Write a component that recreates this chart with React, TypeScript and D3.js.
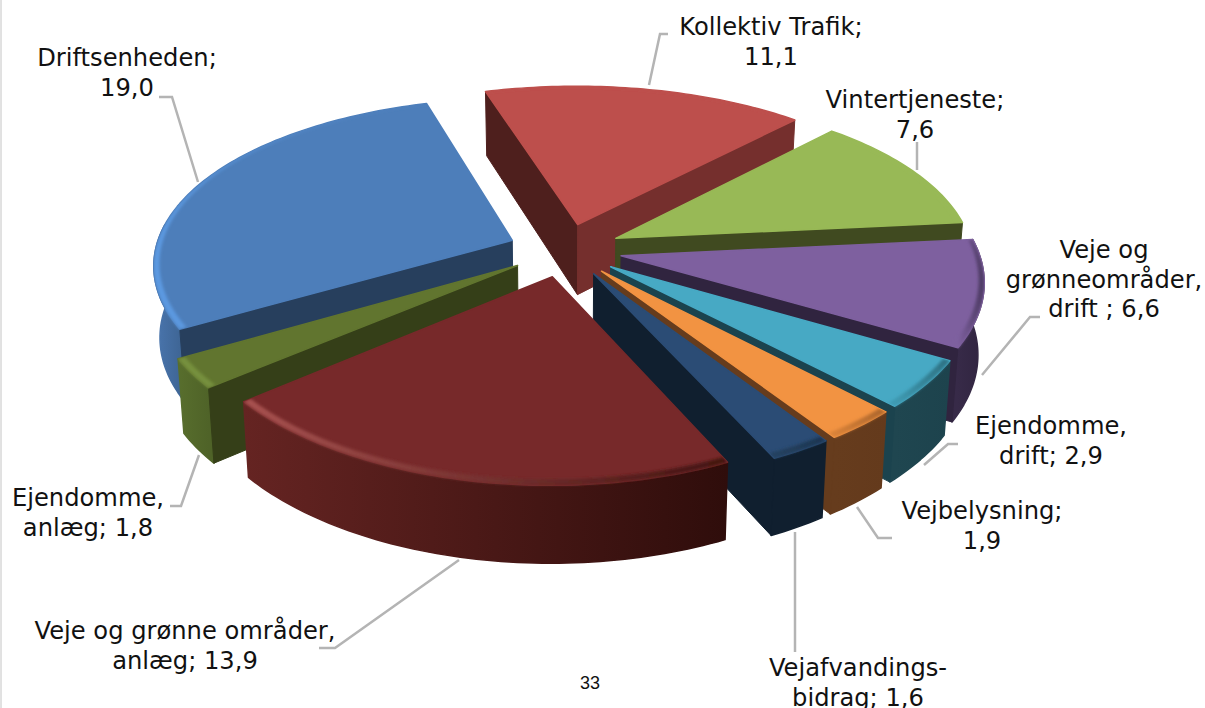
import React from "react";
import * as d3 from "d3";

// ---- data, clockwise from the first slice ----
const categories = [
  "Kollektiv Trafik", "Vintertjeneste", "Veje og grønneområder, drift", "Ejendomme, drift", "Vejbelysning",
  "Vejafvandingsbidrag", "Veje og grønne områder, anlæg", "Ejendomme, anlæg", "Driftsenheden",
];
const values = [11.1, 7.6, 6.6, 2.9, 1.9, 1.6, 13.9, 1.8, 19.0];

// ---- styles, one entry per slice ----
const topColors = ["#BD4F4C", "#98B956", "#7E609F", "#47A9C4", "#F29342", "#2B4C75", "#77292A", "#61752F", "#4D7EBA"];
const rimLeft = ["#BD4F4C", "#98B956", "#7E609F", "#3E9AB2", "#D98238", "#24415F", "#A85250", "#76903C", "#5C9AE2"];
const rimRight = ["#BD4F4C", "#98B956", "#4A3860", "#2C6F80", "#A9642B", "#1B3450", "#42110F", "#76903C", "#4F83C2"];
const radialWalls = ["#4E1F1D", "#404A20", "#30243F", "#1B434E", "#663C1D", "#101F2F", "#3A1210", "#353F18", "#273F5D"];
const radialWallsEnd = ["#752F2D", "#404A20", "#30243F", "#1B434E", "#663C1D", "#101F2F", "#3A1210", "#353F18", "#273F5D"];
const wallLeft = ["#752F2D", "#404A20", "#372A48", "#1F4650", "#663C1D", "#101F2F", "#652422", "#586E2D", "#4A76AF"];
const wallRight = ["#752F2D", "#404A20", "#30243F", "#1D434D", "#643A1C", "#101F2F", "#2F0D0B", "#4F6328", "#3F6696"];

// ---- label layout ----
const labelLines = [
  ["Kollektiv Trafik;", "11,1"],
  ["Vintertjeneste;", "7,6"],
  ["Veje og", "grønneområder,", "drift ; 6,6"],
  ["Ejendomme,", "drift; 2,9"],
  ["Vejbelysning;", "1,9"],
  ["Vejafvandings-", "bidrag; 1,6"],
  ["Veje og grønne områder,", "anlæg; 13,9"],
  ["Ejendomme,", "anlæg; 1,8"],
  ["Driftsenheden;", "19,0"],
];
const labelCenters: [number, number][] = [
  [771, 35], [915, 108], [1104, 258], [1051, 434], [982, 519], [858, 676], [185, 639], [88, 506], [127, 66],
];
const leaders: [number, number][][] = [
  [[668, 34], [660, 34], [649, 85]],
  [[917, 142], [917, 170]],
  [[1040, 317], [1030, 317], [982, 375]],
  [[958, 444], [948, 444], [924, 465]],
  [[892, 538], [878, 538], [857, 507]],
  [[795, 532], [795, 652]],
  [[459, 560], [335, 648], [319, 648]],
  [[199, 455], [181, 506], [170, 506]],
  [[159, 97], [172, 97], [198, 182]],
];

// ---- projection of the tilted pie plane ----
const W = 1205, H = 708;
const CX = 565, CY = 250, R = 357, TILT = 0.468, PERSP_Y = 0.155, PERSP_X = 0.135, EXPLODE = 0.16;
const START_DEG = -17;

type P = { x: number; y: number; z: number };
const project = (px: number, pz: number): P => ({
  x: CX + (R * px) / (1 - PERSP_X * pz),
  y: CY + (R * TILT * pz) / (1 - PERSP_Y * pz),
  z: pz,
});
const drop = (p: P): P => ({ x: CX + (p.x - CX) * 0.985, y: p.y + 71 + 6 * p.z, z: p.z });
const line = d3.line<P>().x((d) => d.x).y((d) => d.y);

const arcs = d3.pie<number>().sort(null)
  .startAngle((START_DEG * Math.PI) / 180)
  .endAngle(((START_DEG + 360) * Math.PI) / 180)(values);

const slices = arcs.map((a, i) => {
  const mid = (a.startAngle + a.endAngle) / 2;
  const ox = EXPLODE * Math.sin(mid), oz = -EXPLODE * Math.cos(mid);
  const at = (ang: number, r: number) => project(ox + r * Math.sin(ang), oz - r * Math.cos(ang));
  const n = Math.max(6, Math.ceil((a.endAngle - a.startAngle) / 0.02));
  const angs = d3.range(n + 1).map((k) => a.startAngle + ((a.endAngle - a.startAngle) * k) / n);
  const outer = angs.map((g) => at(g, 1));
  const rimInner = angs.map((g) => at(g, 1 - (0.004 + 0.02 * (1 - Math.cos(g)) / 2)));
  const tip = at(0, 0);
  const frontArc = outer.filter((p, k) => {
    const c = ((angs[k] * 180) / Math.PI + 720) % 360;
    return c >= 84 && c <= 276;
  });
  const quad = (u: P, v: P) => [u, v, drop(v), drop(u)];
  const segs: { pts: P[]; color: string }[] = [];
  const first = outer[0], last = outer[outer.length - 1];
  if (first.x < tip.x) segs.push({ pts: quad(tip, first), color: radialWalls[i] });
  if (tip.x < last.x) segs.push({ pts: quad(last, tip), color: radialWallsEnd[i] });
  const wall = frontArc.length > 1 ? [...frontArc, ...frontArc.map(drop).reverse()] : null;
  const xs = frontArc.map((p) => p.x);
  const rxs = outer.map((p) => p.x);
  return {
    i, mid, tip, outer, segs, wall,
    rim: [...outer, ...rimInner.slice().reverse()],
    x0: xs.length ? d3.min(xs)! : 0, x1: xs.length ? d3.max(xs)! : 1,
    rx0: d3.min(rxs)!, rx1: d3.max(rxs)!,
    top: [tip, ...outer],
  };
});
const order = [...slices].sort((a, b) => d3.ascending(-Math.cos(a.mid), -Math.cos(b.mid)));

export default function App() {
  return (
    <svg width={W} height={H} viewBox={`0 0 ${W} ${H}`}
      style={{ position: "absolute", left: 0, top: 0, display: "block", background: "#fff" }}>
      <defs>
        <filter id="soft" x="0" y="0" width={W} height={H} filterUnits="userSpaceOnUse"
          primitiveUnits="userSpaceOnUse">
          <feGaussianBlur stdDeviation="1.5" />
        </filter>
        {slices.map((s) => (
          <React.Fragment key={s.i}>
            <linearGradient id={`wall${s.i}`} gradientUnits="userSpaceOnUse" x1={s.x0} x2={s.x1} y1={0} y2={0}>
              <stop offset="0" stopColor={wallLeft[s.i]} />
              <stop offset="1" stopColor={wallRight[s.i]} />
            </linearGradient>
            <linearGradient id={`rim${s.i}`} gradientUnits="userSpaceOnUse" x1={s.rx0} x2={s.rx1} y1={0} y2={0}>
              <stop offset="0" stopColor={rimLeft[s.i]} />
              <stop offset="1" stopColor={rimRight[s.i]} />
            </linearGradient>
            <clipPath id={`clip${s.i}`}>
              <path d={line(s.top)! + "Z"} />
              {s.wall && <path d={line(s.wall)! + "Z"} />}
            </clipPath>
          </React.Fragment>
        ))}
      </defs>
      <line x1={1} x2={1} y1={0} y2={H} stroke="#c4c4c4" strokeWidth={1} />
      {leaders.map((pts, i) => (
        <path key={i} d={d3.line()(pts)!} fill="none" stroke="#b4b4b4" strokeWidth={2.5} />
      ))}
      {order.map((s) => (
        <g key={s.i}>
          {s.wall && (
            <path d={line(s.wall)! + "Z"} fill={`url(#wall${s.i})`} stroke={`url(#wall${s.i})`} strokeWidth={1.5} strokeLinejoin="round" />
          )}
          {s.segs.map((q, k) => (
            <path key={k} d={line(q.pts)! + "Z"} fill={q.color} stroke={q.color} strokeWidth={1} strokeLinejoin="round" />
          ))}
          <path d={line(s.top)! + "Z"} fill={topColors[s.i]} stroke={topColors[s.i]} strokeWidth={1.5} strokeLinejoin="round" />
          <g clipPath={`url(#clip${s.i})`}>
            <path d={line(s.rim)! + "Z"} fill={`url(#rim${s.i})`} filter="url(#soft)" />
          </g>
        </g>
      ))}
      {labelLines.map((lines, i) => (
        <text key={i} textAnchor="middle" fontFamily="'DejaVu Sans'" fontSize={24.2} fill="#111">
          {lines.map((t, k) => (
            <tspan key={k} x={labelCenters[i][0]} y={labelCenters[i][1] + k * 29.7}>{t}</tspan>
          ))}
        </text>
      ))}
      <text x={590} y={689} textAnchor="middle" fontFamily="'Liberation Sans'" fontSize={18} fill="#111">33</text>
    </svg>
  );
}
